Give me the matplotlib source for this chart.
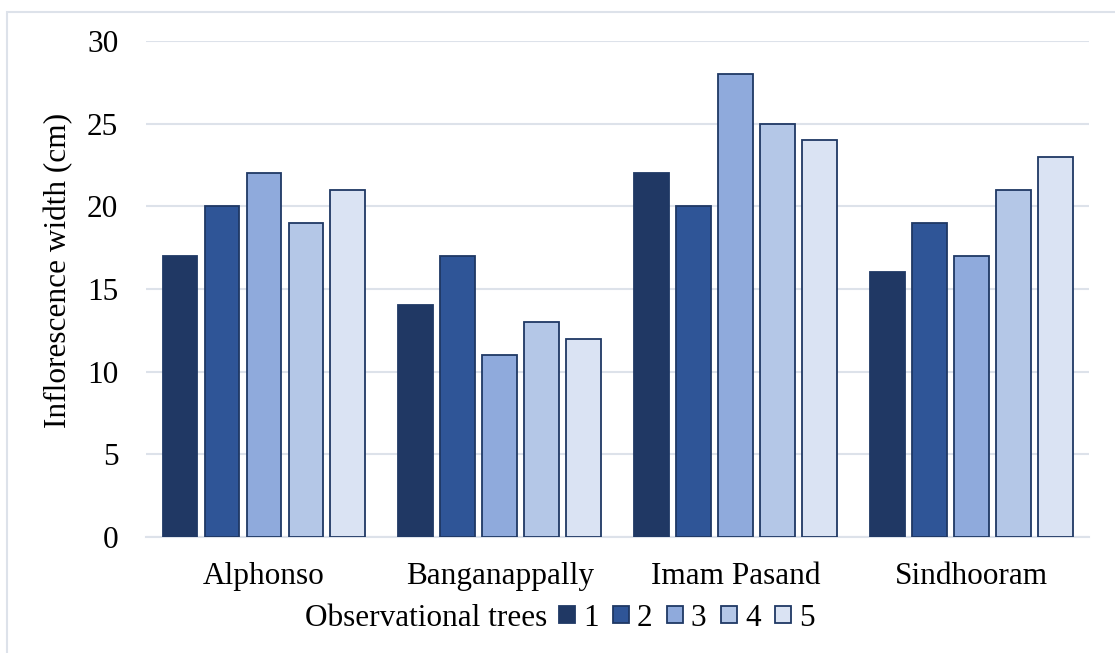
import matplotlib
matplotlib.use("Agg")
from matplotlib import pyplot as plt
from matplotlib.patches import Patch, Rectangle
import numpy as np

varieties = ["Alphonso", "Banganappally", "Imam Pasand", "Sindhooram"]
trees = ["1", "2", "3", "4", "5"]
tree1 = [17, 14, 22, 16]
tree2 = [20, 17, 20, 19]
tree3 = [22, 11, 28, 17]
tree4 = [19, 13, 25, 21]
tree5 = [21, 12, 24, 23]

colors = ["#203864", "#2F5597", "#8FAADC", "#B4C7E7", "#DAE3F3"]
edge = "#1F3864"
grid_color = "#DDE2EA"

plt.rcParams["font.family"] = ["Liberation Serif", "DejaVu Serif"]
fs = 22.5

fig = plt.figure(figsize=(11.15, 6.53), dpi=100)
ax = fig.add_axes([0.131, 0.178, 0.846, 0.759])

# light frame around the chart area
fig.patches.append(Rectangle((7 / 1115, -0.1), 1.2, 1 - 12 / 653 + 0.1,
                             transform=fig.transFigure, fill=False,
                             edgecolor=grid_color, linewidth=1.5))

series = [tree1, tree2, tree3, tree4, tree5]
x = np.arange(len(varieties))
width = 0.148
pitch = 0.178
for i, vals in enumerate(series):
    ax.bar(x + (i - 2) * pitch, vals, width, color=colors[i],
           edgecolor=edge, linewidth=1.3, zorder=3)

ax.set_xlim(-0.5, len(varieties) - 0.5)
ax.set_ylim(0, 30)
ax.set_yticks(range(0, 31, 5))
ax.set_xticks(x)
ax.set_xticklabels(varieties)
ax.tick_params(axis="both", length=0, labelsize=fs, colors="#000000")
ax.tick_params(axis="y", pad=20)
ax.tick_params(axis="x", pad=18)
ax.grid(axis="y", color=grid_color, linewidth=1.5, zorder=0)
ax.set_axisbelow(True)
for side in ["top", "right", "left"]:
    ax.spines[side].set_visible(False)
ax.spines["bottom"].set_color(grid_color)
ax.spines["bottom"].set_linewidth(1.5)

ax.set_ylabel("Inflorescence width (cm)", fontsize=fs, labelpad=10)
ax.yaxis.label.set_y(0.538)

fig.text(547 / 1115, 1 - 618 / 653, "Observational trees", fontsize=fs,
         ha="right", va="center")
handles = [Patch(facecolor=c, edgecolor=edge, linewidth=1.3) for c in colors]
fig.legend(handles, trees, loc="center left",
           bbox_to_anchor=(559 / 1115, 1 - 618 / 653), ncol=5, frameon=False,
           fontsize=fs, handlelength=0.5, handleheight=0.5,
           handletextpad=0.26, columnspacing=0.47, borderaxespad=0,
           borderpad=0)

fig.savefig("out.png", dpi=100)
